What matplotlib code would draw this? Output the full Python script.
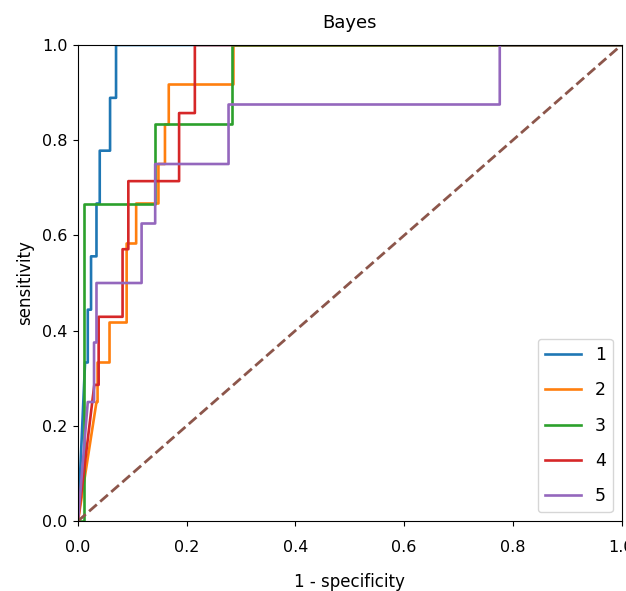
import matplotlib
matplotlib.use("Agg")
import matplotlib.pyplot as plt

labels = ["1", "2", "3", "4", "5"]
fpr_1 = [0, 0.013, 0.018, 0.018, 0.024, 0.024, 0.034, 0.034, 0.040, 0.040, 0.059, 0.059, 0.070, 0.070, 1]
tpr_1 = [0, 0.333, 0.333, 0.444, 0.444, 0.556, 0.556, 0.667, 0.667, 0.778, 0.778, 0.889, 0.889, 1, 1]
fpr_2 = [0, 0.034, 0.036, 0.036, 0.058, 0.058, 0.0895, 0.0895, 0.107, 0.107, 0.148, 0.148, 0.160, 0.160, 0.167, 0.167, 0.286, 0.286, 1]
tpr_2 = [0, 0.25, 0.25, 0.333, 0.333, 0.417, 0.417, 0.583, 0.583, 0.667, 0.667, 0.75, 0.75, 0.833, 0.833, 0.917, 0.917, 1, 1]
fpr_3 = [0, 0.011, 0.011, 0.142, 0.142, 0.283, 0.283, 1]
tpr_3 = [0, 0, 0.667, 0.667, 0.833, 0.833, 1, 1]
fpr_4 = [0, 0.030, 0.038, 0.038, 0.082, 0.082, 0.0926, 0.0926, 0.186, 0.186, 0.215, 0.215, 1]
tpr_4 = [0, 0.286, 0.286, 0.429, 0.429, 0.571, 0.571, 0.714, 0.714, 0.857, 0.857, 1, 1]
fpr_5 = [0, 0.018, 0.0295, 0.0295, 0.034, 0.034, 0.117, 0.117, 0.142, 0.142, 0.277, 0.277, 0.776, 0.776, 1]
tpr_5 = [0, 0.25, 0.25, 0.375, 0.375, 0.5, 0.5, 0.625, 0.625, 0.75, 0.75, 0.875, 0.875, 1, 1]
chance_x = [0, 1]
chance_y = [0, 1]

fprs = [fpr_1, fpr_2, fpr_3, fpr_4, fpr_5]
tprs = [tpr_1, tpr_2, tpr_3, tpr_4, tpr_5]

fig = plt.figure(figsize=(6.26, 5.91), dpi=100)
ax = fig.add_axes([78/626, 70/591, 543.5/626, 476/591])
for i, (f, t) in enumerate(zip(fprs, tprs)):
    ax.plot(f, t, color=f"C{i}", lw=1.9, label=labels[i])
ax.plot(chance_x, chance_y, color="C5", lw=2, ls="--")
ax.set_xlim(0, 1)
ax.set_ylim(0, 1)
ax.set_title("Bayes", fontsize=13, pad=12)
ax.set_xlabel("1 - specificity", fontsize=12, labelpad=13)
ax.set_ylabel("sensitivity", fontsize=12, labelpad=6)
ax.tick_params(axis="x", labelsize=11.5, pad=10)
ax.tick_params(axis="y", labelsize=11.5, pad=4)
ax.legend(loc="lower right", fontsize=12.5, labelspacing=1.0, handlelength=2.1)
fig.savefig("out.png", dpi=100)
